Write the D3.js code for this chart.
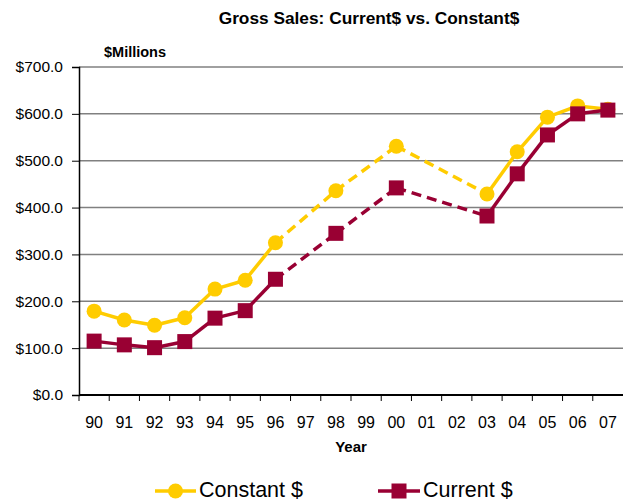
<!DOCTYPE html>
<html>
<head>
<meta charset="utf-8">
<script src="https://cdn.jsdelivr.net/npm/d3@7"></script>
<style>
  body { margin: 0; background: #fff; }
  svg { display: block; font-family: "Liberation Sans", Arial, sans-serif; }
</style>
</head>
<body>
<div id="chart"></div>
<script>
const years = ["90","91","92","93","94","95","96","97","98","99","00","01","02","03","04","05","06","07"];
// null = no data for that year (line is dashed across the gap)
const constant = [179, 160, 149, 165, 226, 245, 325, null, 436, null, 531, null, null, 429, 519, 593, 617, 610];
const current  = [115, 107, 101, 114, 164, 180, 247, null, 345, null, 442, null, null, 382, 472, 555, 600, 608];
const yTicks = [0, 100, 200, 300, 400, 500, 600, 700];

const W = 623, H = 502;
const margin = {top: 67, right: 0, bottom: 107, left: 79};
const width = W - margin.left - margin.right;
const height = H - margin.top - margin.bottom;

const svg = d3.select("#chart").append("svg")
  .attr("width", W)
  .attr("height", H);

const g = svg.append("g")
  .attr("transform", "translate(" + margin.left + "," + margin.top + ")");

const x = d3.scaleBand().domain(years).range([0, width]);
const y = d3.scaleLinear().domain([0, 700]).range([height, 0]);

// gridlines
g.append("g").selectAll("line")
  .data(yTicks.slice(1))
  .enter().append("line")
    .attr("x1", 0).attr("x2", width)
    .attr("y1", d => y(d)).attr("y2", d => y(d))
    .attr("stroke", "#808080").attr("stroke-width", 1.5);

// y axis
const yAxis = g.append("g")
  .call(d3.axisLeft(y).tickValues(yTicks).tickSize(7).tickPadding(9)
    .tickFormat(d => "$" + d3.format(".1f")(d)));
yAxis.select(".domain").attr("stroke", "#000").attr("stroke-width", 1.5);
yAxis.selectAll("text").attr("font-size", 15.5).attr("fill", "#000")
  .attr("font-family", "Liberation Sans, Arial, sans-serif");

// x axis: ticks sit on the category boundaries
const xAxis = g.append("g").attr("transform", "translate(0," + height + ")");
xAxis.append("line").attr("x1", 0).attr("x2", width)
  .attr("stroke", "#000").attr("stroke-width", 2);
xAxis.selectAll(".tk").data(years).enter().append("line")
  .attr("x1", d => x(d)).attr("x2", d => x(d))
  .attr("y1", 0).attr("y2", 6).attr("stroke", "#000");
xAxis.selectAll(".lbl").data(years).enter().append("text")
  .attr("x", d => x(d) + x.bandwidth() / 2)
  .attr("y", 33)
  .attr("text-anchor", "middle")
  .attr("font-size", 16)
  .text(d => d);

// titles
svg.append("text").attr("x", 369).attr("y", 24).attr("text-anchor", "middle")
  .attr("font-size", 17.3).attr("font-weight", "bold")
  .text("Gross Sales: Current$ vs. Constant$");
svg.append("text").attr("x", 104).attr("y", 57)
  .attr("font-size", 14.5).attr("font-weight", "bold").text("$Millions");
svg.append("text").attr("x", 351).attr("y", 452).attr("text-anchor", "middle")
  .attr("font-size", 15).attr("font-weight", "bold").text("Year");

function drawSeries(values, color, shape) {
  const pts = years.map((yr, i) => ({yr, v: values[i]})).filter(d => d.v != null);
  const cx = d => x(d.yr) + x.bandwidth() / 2;
  // segments: dashed when they skip a missing year
  for (let i = 1; i < pts.length; i++) {
    const a = pts[i - 1], b = pts[i];
    const gap = years.indexOf(b.yr) - years.indexOf(a.yr) > 1;
    g.append("line")
      .attr("x1", cx(a)).attr("y1", y(a.v))
      .attr("x2", cx(b)).attr("y2", y(b.v))
      .attr("stroke", color).attr("stroke-width", 3.5)
      .attr("stroke-dasharray", gap ? "10,6" : null);
  }
  if (shape === "circle") {
    g.selectAll(null).data(pts).enter().append("circle")
      .attr("cx", cx).attr("cy", d => y(d.v)).attr("r", 7.5)
      .attr("fill", color);
  } else {
    g.selectAll(null).data(pts).enter().append("rect")
      .attr("x", d => cx(d) - 7.5).attr("y", d => y(d.v) - 7.5)
      .attr("width", 15).attr("height", 15)
      .attr("fill", color);
  }
}

drawSeries(constant, "#FFCC00", "circle");
drawSeries(current, "#990033", "square");

// legend
const leg = svg.append("g");
leg.append("line").attr("x1", 155).attr("x2", 196).attr("y1", 491).attr("y2", 491)
  .attr("stroke", "#FFCC00").attr("stroke-width", 3.5);
leg.append("circle").attr("cx", 175.5).attr("cy", 491).attr("r", 7.5).attr("fill", "#FFCC00");
leg.append("text").attr("x", 199).attr("y", 497).attr("font-size", 21.5).text("Constant $");
leg.append("line").attr("x1", 378).attr("x2", 420).attr("y1", 491).attr("y2", 491)
  .attr("stroke", "#990033").attr("stroke-width", 3.5);
leg.append("rect").attr("x", 391.5).attr("y", 483.5).attr("width", 15).attr("height", 15).attr("fill", "#990033");
leg.append("text").attr("x", 423).attr("y", 497).attr("font-size", 21.5).text("Current $");
</script>
</body>
</html>
